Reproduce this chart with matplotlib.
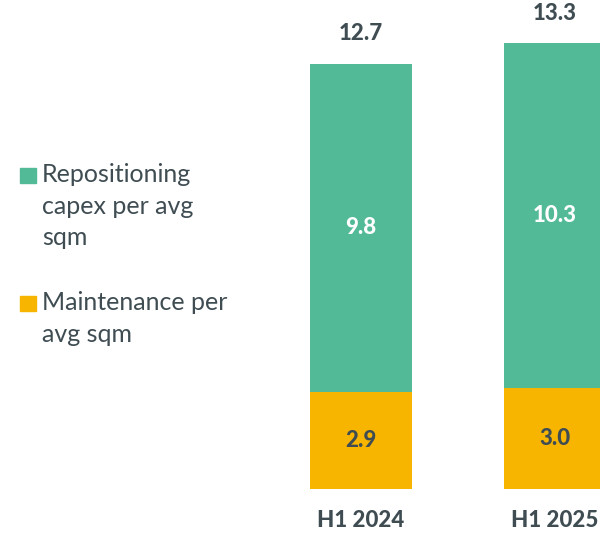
import matplotlib.pyplot as plt
from matplotlib.patches import Rectangle

plt.rcParams['font.family'] = ['Lato', 'DejaVu Sans']

# data
periods = ['H1 2024', 'H1 2025']
maintenance = [2.9, 3.0]
repositioning = [9.8, 10.3]
totals = [12.7, 13.3]
series_names = ['Repositioning\ncapex per avg\nsqm', 'Maintenance per\navg sqm']

green = '#52BA96'
orange = '#F8B500'
dark = '#3F4D53'

fig = plt.figure(figsize=(6, 5.37), dpi=100)
ax = fig.add_axes([0, 0, 1, 1])

x = range(len(periods))
w = 0.526
ax.bar(x, maintenance, width=w, color=orange)
ax.bar(x, repositioning, width=w, bottom=maintenance, color=green)

lbl = dict(ha='center', va='center', fontsize=16, fontweight='black')
for i in x:
    ax.text(i, maintenance[i] / 2, f'{maintenance[i]:.1f}', color=dark, **lbl)
    ax.text(i, maintenance[i] + repositioning[i] / 2, f'{repositioning[i]:.1f}',
            color='white', **lbl)
    ax.text(i, totals[i] + 0.9, f'{totals[i]:.1f}', color=dark, **lbl)
    ax.text(i, -0.95, periods[i], color=dark, **lbl)

ax.set_xlim(-1.861, 1.232)
ax.set_ylim(-1.433, 14.597)
ax.axis('off')

# legend drawn by hand (square beside first line)
leg_y = [1 - 176 / 537, 1 - 304 / 537]
for name, col, yy in zip(series_names, [green, orange], leg_y):
    fig.patches.append(Rectangle((20 / 600, yy - 0.0135), 16 / 600, 15 / 537,
                                 transform=fig.transFigure, color=col))
    fig.text(42 / 600, yy + 0.024, name, ha='left', va='top', fontsize=18,
             color=dark, linespacing=1.45)

fig.savefig('out.png', dpi=100)
